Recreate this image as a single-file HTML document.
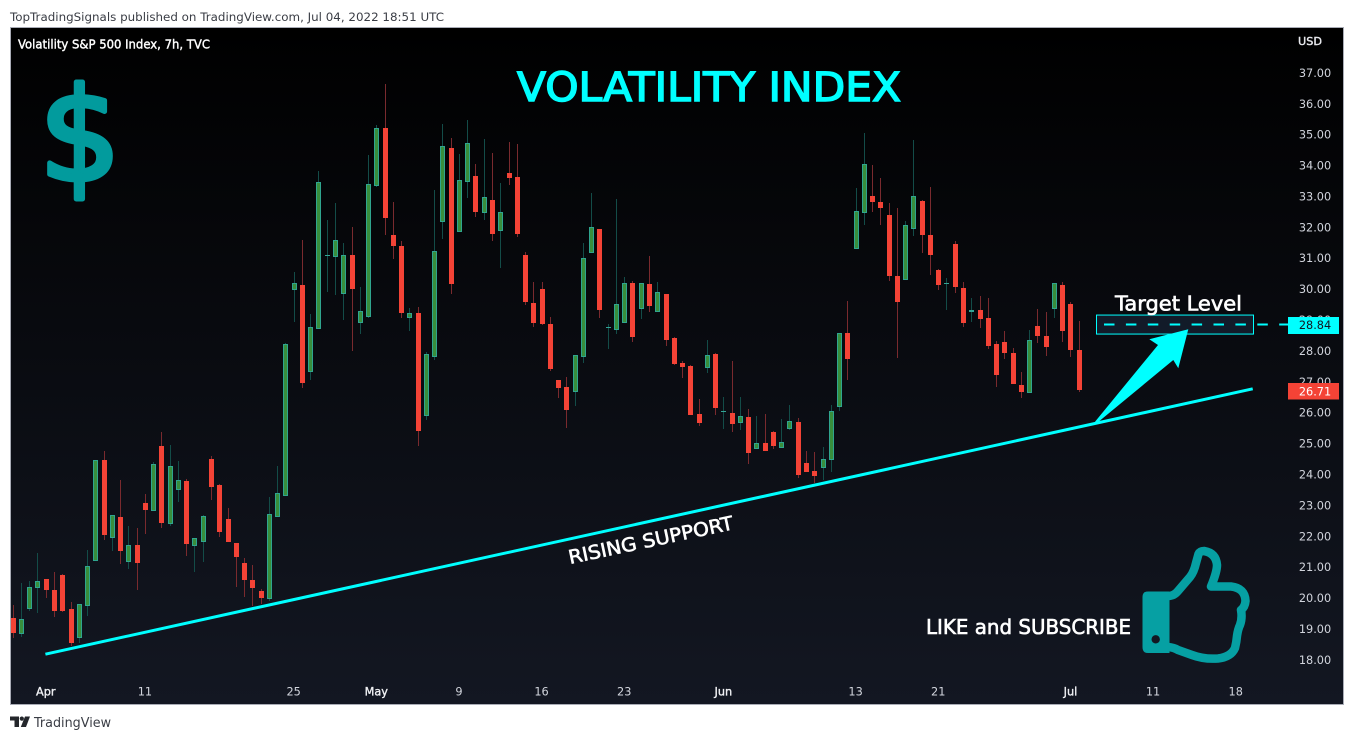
<!DOCTYPE html>
<html lang="en">
<head>
<meta charset="utf-8">
<title>Volatility S&amp;P 500 Index chart</title>
<style>
html,body{margin:0;padding:0;background:#fff;width:1354px;height:740px;overflow:hidden}
svg{display:block}
text{font-family:"DejaVu Sans","Liberation Sans",sans-serif}
</style>
</head>
<body>
<svg id="chart" xmlns="http://www.w3.org/2000/svg" width="1354" height="740" viewBox="0 0 1354 740">
  <defs>
    <linearGradient id="bg" x1="0" y1="0" x2="0" y2="1">
      <stop offset="0" stop-color="#000000"/>
      <stop offset="1" stop-color="#131722"/>
    </linearGradient>
  </defs>
  <rect x="0" y="0" width="1354" height="740" fill="#ffffff"/>
  <text x="10" y="21" font-size="11.6" fill="#3a3d45" textLength="434" lengthAdjust="spacingAndGlyphs">TopTradingSignals published on TradingView.com, Jul 04, 2022 18:51 UTC</text>
  <rect x="10.5" y="27.5" width="1333" height="677" fill="url(#bg)" stroke="#a9acb6" stroke-width="1"/>
  <text x="18" y="48.5" font-size="12" fill="#ffffff" stroke="#ffffff" stroke-width="0.4" textLength="192" lengthAdjust="spacingAndGlyphs">Volatility S&amp;P 500 Index, 7h, TVC</text>
  <text x="1298" y="45" font-size="11" fill="#e8e9ee" stroke="#e8e9ee" stroke-width="0.4" textLength="24" lengthAdjust="spacingAndGlyphs">USD</text>

  <g id="price-axis"></g>
  <g id="time-axis"></g>
  <g id="candles" shape-rendering="crispEdges"></g>

  <text x="517" y="101" font-size="40" fill="#00ffff" stroke="#00ffff" stroke-width="1.5" textLength="384" lengthAdjust="spacingAndGlyphs">VOLATILITY INDEX</text>
  <text x="80" y="180" text-anchor="middle" font-size="129" fill="#029b9d" stroke="#029b9d" stroke-width="5" stroke-linejoin="round" style="font-family:'DejaVu Sans',sans-serif">$</text>

  <g id="annotations"></g>

  <text x="0" y="0" transform="translate(570,564) rotate(-12)" font-size="19" fill="#ffffff" stroke="#ffffff" stroke-width="0.6" textLength="168" lengthAdjust="spacingAndGlyphs">RISING SUPPORT</text>
  <text x="1115" y="310.5" font-size="20" fill="#ffffff" stroke="#ffffff" stroke-width="0.6" textLength="127" lengthAdjust="spacingAndGlyphs">Target Level</text>
  <text x="926" y="634" font-size="20" fill="#ffffff" stroke="#ffffff" stroke-width="0.6" textLength="205" lengthAdjust="spacingAndGlyphs">LIKE and SUBSCRIBE</text>

  <g>
    <path d="M1148 591.5 H1169.5 V653 H1148 Q1142.5 653 1142.5 647 V597 Q1142.5 591.5 1148 591.5 Z" fill="#06a0a3"/>
    <circle cx="1155.7" cy="639.3" r="4.2" fill="#131722"/>
    <path d="M1168 596 Q1174 596 1178 591 L1190 577 Q1194 572 1196 563 L1198.5 554 Q1200 551 1204 551 Q1216 553 1217 565 Q1217 572 1211 586.5 H1231 Q1245 588 1245.5 601 Q1245 607 1241 610 Q1242.5 618 1240 625 Q1238 629 1237 636 Q1236.5 642 1235 648 Q1231 657 1218 658.5 Q1204 659.5 1192 655 L1178 650 Q1174 647.5 1168 647" fill="none" stroke="#06a0a3" stroke-width="8.5" stroke-linejoin="round" stroke-linecap="butt"/>
  </g>

  <g>
    <path d="M10 716.5 H19 V727 H14.5 V720.5 H10 Z" fill="#24262b"/>
    <circle cx="21.8" cy="718.6" r="2.1" fill="#24262b"/>
    <path d="M25 716.5 H30 L26 727 H20.8 Z" fill="#24262b"/>
  </g>
  <text x="34" y="727" font-size="13" fill="#3a3d45" textLength="77" lengthAdjust="spacingAndGlyphs">TradingView</text>
</svg>

<script>
const SVG_NS = "http://www.w3.org/2000/svg";

const priceTicks = ["37.00","36.00","35.00","34.00","33.00","32.00","31.00","30.00","29.00","28.00","27.00","26.00","25.00","24.00","23.00","22.00","21.00","20.00","19.00","18.00"];
const timeLabels = ["Apr","11","25","May","9","16","23","Jun","13","21","Jul","11","18"];
const timeLabelBars = [4,16,34,44,54,64,74,86,102,112,128,138,148];
const monthLabels = ["Apr","May","Jun","Jul"];

const open = [
19.34,18.85,19.66,20.34,20.60,20.25,20.73,19.63,18.74,19.75,
21.23,24.46,21.95,22.61,21.20,21.70,23.06,22.83,24.91,22.40,
23.51,23.78,21.70,21.82,24.48,23.65,22.54,21.76,21.12,20.56,
20.22,20.00,22.65,23.33,30.00,30.12,27.35,28.74,31.09,31.07,
29.87,31.08,28.93,29.13,33.36,35.19,31.73,31.37,29.10,29.21,
25.92,27.83,32.20,34.55,31.88,33.50,33.64,32.50,32.86,31.91,
33.74,33.61,31.08,29.53,29.98,28.85,27.05,26.82,26.70,27.83,
31.20,31.93,28.74,28.71,28.93,30.19,29.39,30.15,29.29,29.83,
28.41,27.60,27.50,25.95,27.45,27.89,26.02,25.97,25.70,25.84,
24.85,25.00,25.35,24.89,25.50,25.68,24.35,24.09,24.24,24.48,
26.21,28.56,31.33,32.50,33.00,32.80,32.39,30.40,30.33,31.98,
32.83,31.73,30.60,30.17,31.44,30.01,29.26,29.30,29.04,28.21,
28.27,27.91,26.88,26.67,28.78,28.46,29.39,30.11,29.51,28.02];

const high = [
19.76,20.47,20.54,21.45,20.60,20.83,20.77,19.86,19.79,21.54,
24.46,24.75,22.67,23.81,22.32,22.25,23.36,24.40,25.36,24.94,
24.42,23.84,21.92,22.67,24.59,23.68,22.90,21.76,21.29,21.06,
20.28,23.26,24.26,28.24,30.54,31.58,29.18,33.81,32.23,32.78,
31.48,32.00,30.06,34.33,35.30,36.63,32.81,31.55,29.38,29.41,
27.94,33.20,35.33,34.88,34.36,35.46,34.04,34.85,34.39,33.42,
34.75,34.69,31.19,30.22,30.22,29.09,27.05,27.15,27.85,31.47,
33.09,31.93,28.85,32.91,30.37,30.25,30.18,31.06,30.22,29.83,
28.44,27.67,27.53,26.43,28.34,27.91,26.50,27.67,26.50,26.11,
25.88,25.95,25.39,25.78,26.24,25.82,24.75,24.72,24.88,26.24,
28.56,29.60,33.25,35.03,34.01,33.59,32.77,32.60,32.18,34.82,
32.87,33.29,30.63,30.34,31.54,30.21,29.70,29.75,29.70,28.31,
28.63,28.07,27.31,28.67,29.34,29.25,30.18,30.22,29.57,28.96];

const low = [
18.70,18.74,19.58,19.51,19.99,19.38,19.55,18.45,18.54,19.41,
21.23,21.85,21.52,21.10,20.94,20.26,22.07,22.83,22.26,22.33,
23.11,21.36,20.84,21.15,23.17,21.97,21.81,20.36,20.03,19.73,
19.80,19.90,22.62,23.33,28.93,26.80,27.05,28.74,29.90,29.80,
28.99,27.99,28.53,29.05,33.30,31.75,30.97,29.06,28.64,24.92,
25.76,27.70,31.62,29.84,31.88,32.94,32.33,32.23,31.56,30.68,
33.37,31.68,29.48,28.77,28.84,27.35,26.47,25.50,26.20,27.61,
31.17,29.06,28.06,28.55,28.93,28.29,29.03,29.26,29.29,28.16,
27.54,27.12,25.91,25.57,27.28,25.91,25.47,25.37,25.44,24.34,
24.85,24.76,24.82,24.88,25.43,23.88,24.08,23.71,23.81,24.08,
26.05,27.05,31.31,32.07,32.48,32.06,30.26,27.76,30.33,31.71,
31.16,30.45,29.97,29.32,29.87,28.77,28.93,28.74,28.06,26.83,
27.73,26.93,26.47,26.67,28.25,27.83,29.06,28.29,27.80,26.67];

const close = [
18.87,19.30,20.34,20.53,20.26,19.58,19.58,18.54,19.79,21.02,
24.45,22.04,22.67,21.52,21.70,21.13,22.85,24.32,22.43,24.25,
23.80,21.75,21.92,22.63,23.59,22.14,21.81,21.33,20.58,20.32,
20.00,22.70,23.38,28.20,30.20,26.96,28.76,33.45,31.10,31.57,
31.08,30.00,29.27,33.38,35.19,32.30,31.39,29.22,29.21,25.40,
27.88,31.21,34.61,30.16,33.51,34.71,32.50,32.96,31.78,32.47,
33.59,31.78,29.58,28.90,28.87,27.41,26.80,26.09,27.85,30.99,
31.99,29.32,28.75,29.50,30.18,28.45,30.18,29.45,29.88,28.35,
27.57,27.48,25.91,25.66,27.85,26.15,26.03,25.63,25.87,24.69,
25.00,24.76,24.92,25.03,25.71,23.98,24.08,23.95,24.48,26.03,
28.56,27.74,32.51,34.03,32.82,32.62,30.42,29.58,32.05,32.99,
31.75,31.10,30.13,30.18,30.07,28.90,29.31,29.03,28.16,27.22,
27.93,26.93,26.67,28.33,28.48,28.12,30.18,28.64,28.03,26.71];

const supportBars = [3.97, 150.07];
const supportPrices = [18.17, 26.76];
const targetPrice = [28.84];
const lastPrice = [26.71];

function xOf(bar) { return 13.2 + 8.2636 * bar; }
function yOf(price) { return 72.5 + (37 - price) * 30.89; }

function make(tag, attrs, parent) {
  const el = document.createElementNS(SVG_NS, tag);
  for (const k in attrs) el.setAttribute(k, attrs[k]);
  parent.appendChild(el);
  return el;
}

const priceAxis = document.getElementById("price-axis");
priceTicks.forEach(function (t) {
  const label = make("text", {x: 1315, y: yOf(parseFloat(t)) + 4.4, "font-size": 11.3, fill: "#d1d4dc", "text-anchor": "middle"}, priceAxis);
  
  
  label.textContent = t;
});

const timeAxis = document.getElementById("time-axis");
timeLabels.forEach(function (t, i) {
  const isMonth = monthLabels.indexOf(t) >= 0;
  const label = make("text", {x: xOf(timeLabelBars[i]) - 0.5, y: 695.5, "font-size": 11.3, fill: isMonth ? "#f0f1f4" : "#d1d4dc", "text-anchor": "middle"}, timeAxis);
  if (isMonth) { label.setAttribute("stroke", "#f0f1f4"); label.setAttribute("stroke-width", "0.35"); }
  
  
  label.textContent = t;
});

const candles = document.getElementById("candles");
open.forEach(function (o, i) {
  const c = close[i];
  const up = c >= o;
  const cx = Math.floor(xOf(i));
  const top = Math.round(yOf(Math.max(o, c)));
  const bottom = Math.round(yOf(Math.min(o, c)));
  const hi = Math.round(yOf(high[i]));
  const lo = Math.round(yOf(low[i]));
  const wick = make("rect", {x: cx, y: hi, width: 1, height: Math.max(1, lo - hi), fill: up ? "#134c48" : "#7a2a2e"}, candles);
  
  
  const h = bottom - top;
  if (up && h >= 3) {
    const bodyUp = make("rect", {x: cx - 1.5, y: top + 0.5, width: 4, height: h, fill: "#388e3c", stroke: "#2fa58f", "stroke-width": 1, "shape-rendering": "crispEdges"}, candles);
    
    
  } else if (up) {
    const bodyDoji = make("rect", {x: cx - 2, y: top, width: 5, height: Math.max(1, h), fill: "#33a596"}, candles);
    
    
  } else {
    const bodyDown = make("rect", {x: cx - 2, y: top, width: 5, height: Math.max(1, h), fill: "#f44336"}, candles);
    
    
  }
});

const notes = document.getElementById("annotations");
const support = make("line", {x1: xOf(supportBars[0]) - 0.6, y1: yOf(supportPrices[0]), x2: xOf(supportBars[1]) - 0.6, y2: yOf(supportPrices[1]), stroke: "#00ffff", "stroke-width": 3}, notes);



const targetY = yOf(targetPrice[0]);
const box = make("rect", {x: 1096.5, y: targetY - 9.5, width: 157, height: 19, fill: "#121b29", stroke: "#00ffff", "stroke-width": 1}, notes);


const dash = make("line", {x1: 1104, y1: targetY, x2: 1289, y2: targetY, stroke: "#00ffff", "stroke-width": 2, "stroke-dasharray": "10.5 11.4"}, notes);



const arrow = make("polygon", {points: "1188.3,329.3 1178.3,368.3 1173.3,360 1097,423 1095,421.7 1158,345 1149.3,339.3", fill: "#00ffff"}, notes);



const targetTag = make("rect", {x: 1288, y: 317, width: 51, height: 17, fill: "#00ffff"}, notes);


const targetText = make("text", {x: 1315, y: targetY + 4.5, "font-size": 11.3, fill: "#131722", "text-anchor": "middle"}, notes);


targetText.textContent = targetPrice[0].toFixed(2);

const lastTag = make("rect", {x: 1288, y: 383, width: 51, height: 16.5, fill: "#f44336"}, notes);


const lastText = make("text", {x: 1315, y: 395.6, "font-size": 11.3, fill: "#ffffff", "text-anchor": "middle"}, notes);


lastText.textContent = lastPrice[0].toFixed(2);
</script>
</body>
</html>
